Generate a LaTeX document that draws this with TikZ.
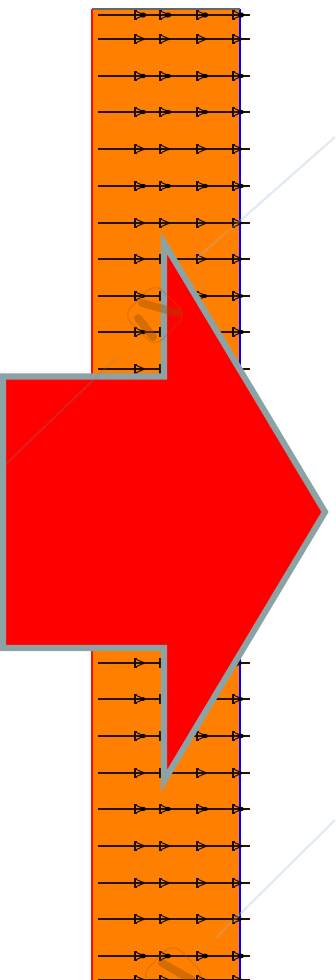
\documentclass[tikz,border=0pt]{standalone}
\usepackage{xcolor}
\definecolor{barfill}{RGB}{255,128,0}
\definecolor{arrowedge}{RGB}{140,163,166}
\definecolor{markline}{RGB}{205,218,235}
\tikzset{
  fieldline/.style={line width=0.75pt,black!85!barfill},
  fieldmark/.style={line width=0.6pt,black!90!barfill},
  wmark/.style={line width=1.2pt,markline,opacity=0.6},
  logomark/.style={line width=0.8pt,black!30!barfill,opacity=0.3},
  logostroke/.style={line width=4.5pt,line cap=round,black!40!barfill,opacity=0.4},
  pics/bell/.style={code={
    \draw[fieldmark] (2,-4) -- (0,-4) -- (0,4) -- (2,4);
    \draw[fieldmark] (2,-3.2) .. controls (3,-3.2) and (5,-1.5) .. (9,-0.4);
    \draw[fieldmark] (2,3.2) .. controls (3,3.2) and (5,1.5) .. (9,0.4);
    \fill[black] (8,0) ellipse[x radius=#1+0.6,y radius=#1];
  }},
}
\begin{document}
\begin{tikzpicture}[x=0.02cm,y=-0.02cm]
\useasboundingbox (0,0) rectangle (335,980);
\path
  (92,9) coordinate (bar1)
  (240,980) coordinate (bar2)
  (3,376.5) coordinate (a1)
  (164,376.5) coordinate (a2)
  (164,243) coordinate (a3)
  (325,512) coordinate (a4)
  (164,781) coordinate (a5)
  (164,648) coordinate (a6)
  (3,648) coordinate (a7)
  ;

% bar
\fill[barfill] (bar1) rectangle (bar2);
\draw[line width=0.8pt,red!90!orange] (bar1) -- (92,980);
\draw[line width=0.8pt,blue] (240,9) -- (bar2);
\draw[line width=0.7pt,black!60] (bar1) -- (240,9);

% rows
\foreach \y/\r in {15/2.6,39/1,76/2.2,112/2.2,149/1,186/2.2,223/1,259/1,296/1.8,332/2.2,369/1,
  406/1,442/2.2,479/1,516/2.2,553/1,589/2.2,626/1,
  663/1,699/1.8,736/2.2,773/1,809/2.2,846/1,883/1,919/1,956/2.4,980/1}{
  \draw[fieldline] (98,\y) -- (250,\y);
  \foreach \x in {135,160,197,233}{
    \pic at (\x,\y) {bell=\r};
  }
}

% arrow
\draw[line width=3.5pt,arrowedge,fill=red,miter limit=10]
  (a1) -- (a2) -- (a3) -- (a4) -- (a5) -- (a6) -- (a7) -- cycle;

% faint lines
\draw[wmark] (335,137) -- (241,220);
\draw[wmark,markline!60!gray,opacity=0.3] (241,220) -- (197,258);
\draw[wmark] (335,820) -- (241,913);
\draw[wmark,markline!60!gray,opacity=0.3] (241,913) -- (217,937);
\draw[wmark,gray,opacity=0.22] (116,358) -- (6,464);
\draw[logomark,rounded corners=6pt,rotate around={45:(155,315)}]
  (132.5,292.5) rectangle (177.5,337.5);
\draw[logostroke] (142,303) -- (178,313);
\draw[logostroke] (138,318) -- (153,337);
\begin{scope}
\clip (0,0) rectangle (335,980);
\draw[logomark,rounded corners=6pt,rotate around={45:(173,975)}]
  (150.5,952.5) rectangle (195.5,997.5);
\draw[logostroke] (162,963) -- (192,980);
\end{scope}
\end{tikzpicture}
\end{document}
